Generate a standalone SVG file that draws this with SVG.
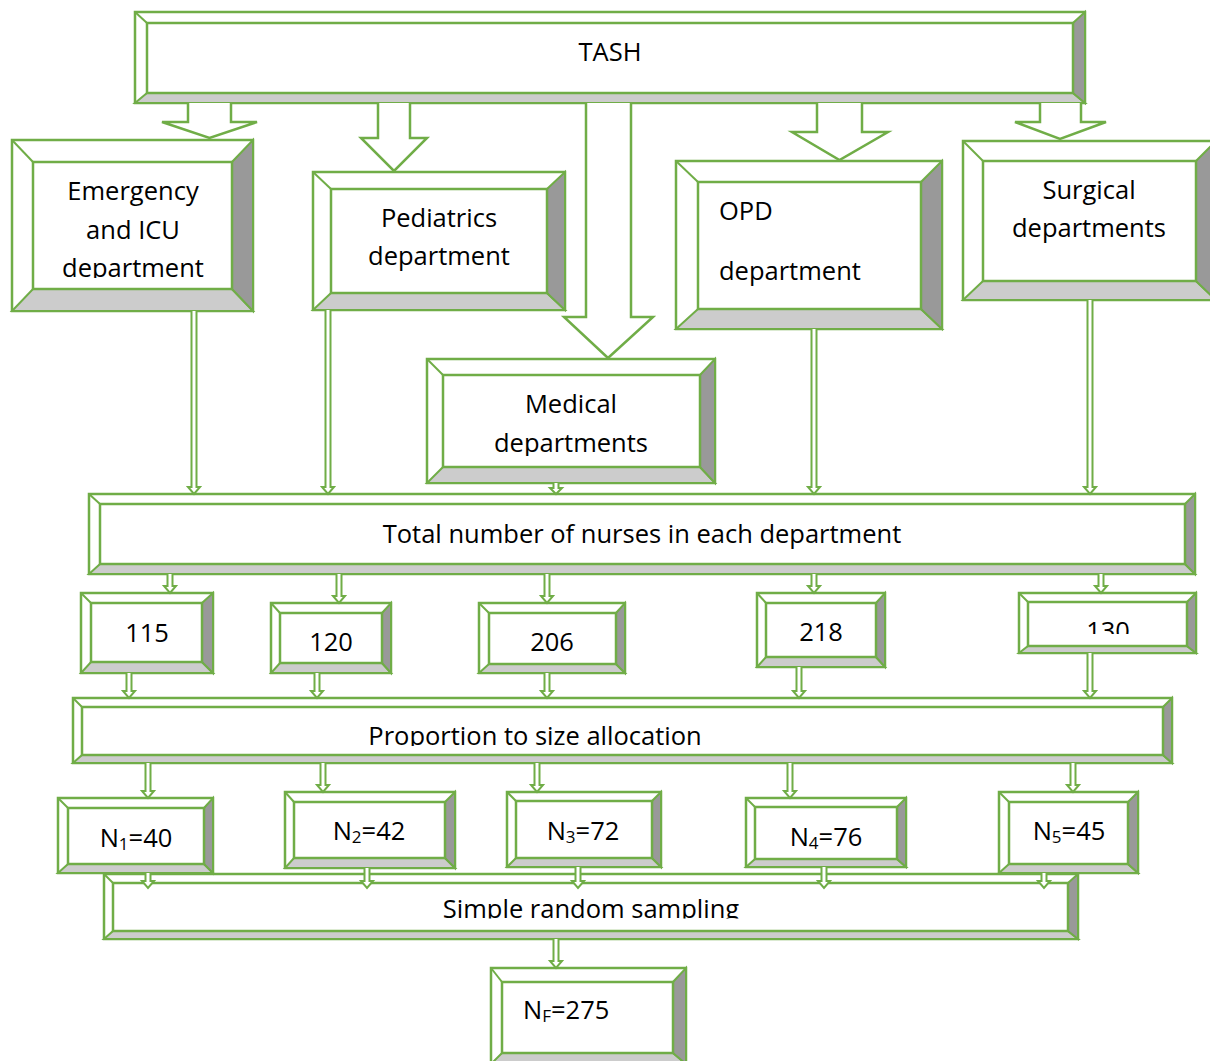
<svg xmlns="http://www.w3.org/2000/svg" width="1210" height="1061" viewBox="0 0 1210 1061">
<style>
.o{fill:#fff;stroke:#70AD47;stroke-width:2.5}
.b{fill:#CCCCCC;stroke:#70AD47;stroke-width:2}
.r{fill:#999999;stroke:#70AD47;stroke-width:2}
.d{stroke:#70AD47;stroke-width:2;fill:none}
.i{fill:#fff;stroke:#70AD47;stroke-width:2.5}
.a{fill:#fff;stroke:#70AD47;stroke-width:2.5;stroke-linejoin:miter}
.t{fill:#fff;stroke:#70AD47;stroke-width:2}
text{font-family:"Open Sans","Noto Sans",sans-serif;font-size:25.5px;fill:#000}
.c{text-anchor:middle}
.s{font-size:17px}
</style>
<defs>
<clipPath id="cE"><rect x="0" y="0" width="1210" height="278"/></clipPath>
<clipPath id="cM"><rect x="0" y="0" width="1210" height="456"/></clipPath>
<clipPath id="c130"><rect x="0" y="0" width="1210" height="634"/></clipPath>
<clipPath id="cP"><rect x="0" y="0" width="1210" height="746"/></clipPath>
<clipPath id="cS"><rect x="0" y="0" width="1210" height="918.5"/></clipPath>
</defs>

<g id="tash">
<rect class="o" x="135" y="12" width="950" height="91"/>
<polygon class="b" points="135,103 1085,103 1073,93 147,93"/>
<polygon class="r" points="1085,12 1085,103 1073,93 1073,23"/>
<line class="d" x1="135" y1="12" x2="147" y2="23"/>
<rect class="i" x="147" y="23" width="926" height="70"/>
<text class="c" x="610" y="61">TASH</text>
</g>

<g id="emergency">
<rect class="o" x="12" y="140" width="241" height="171"/>
<polygon class="b" points="12,311 253,311 232,289 33,289"/>
<polygon class="r" points="253,140 253,311 232,289 232,162"/>
<line class="d" x1="12" y1="140" x2="33" y2="162"/>
<rect class="i" x="33" y="162" width="199" height="127"/>
<text class="c" x="133" y="200">Emergency</text>
<text class="c" x="133" y="239">and ICU</text>
<text class="c" x="133" y="277" clip-path="url(#cE)">department</text>
</g>

<g id="pediatrics">
<rect class="o" x="313" y="172" width="252" height="138"/>
<polygon class="b" points="313,310 565,310 547,293 331,293"/>
<polygon class="r" points="565,172 565,310 547,293 547,189"/>
<line class="d" x1="313" y1="172" x2="331" y2="189"/>
<rect class="i" x="331" y="189" width="216" height="104"/>
<text class="c" x="439" y="227">Pediatrics</text>
<text class="c" x="439" y="265">department</text>
</g>

<g id="medical">
<rect class="o" x="427" y="359" width="288" height="124"/>
<polygon class="b" points="427,483 715,483 700,467 443,467"/>
<polygon class="r" points="715,359 715,483 700,467 700,375"/>
<line class="d" x1="427" y1="359" x2="443" y2="375"/>
<rect class="i" x="443" y="375" width="257" height="92"/>
<text class="c" x="571" y="413">Medical</text>
<text class="c" x="571" y="452" clip-path="url(#cM)">departments</text>
</g>

<g id="opd">
<rect class="o" x="676" y="161" width="266" height="168"/>
<polygon class="b" points="676,329 942,329 921,309 698,309"/>
<polygon class="r" points="942,161 942,329 921,309 921,182"/>
<line class="d" x1="676" y1="161" x2="698" y2="182"/>
<rect class="i" x="698" y="182" width="223" height="127"/>
<text x="719" y="220">OPD</text>
<text x="719" y="280">department</text>
</g>

<g id="surgical">
<rect class="o" x="963" y="141" width="253" height="159"/>
<polygon class="b" points="963,300 1216,300 1196,281 983,281"/>
<polygon class="r" points="1216,141 1216,300 1196,281 1196,161"/>
<line class="d" x1="963" y1="141" x2="983" y2="161"/>
<rect class="i" x="983" y="161" width="213" height="120"/>
<text class="c" x="1089" y="199">Surgical</text>
<text class="c" x="1089" y="237">departments</text>
</g>

<g id="total">
<rect class="o" x="89" y="494" width="1106" height="80"/>
<polygon class="b" points="89,574 1195,574 1185,564 100,564"/>
<polygon class="r" points="1195,494 1195,574 1185,564 1185,504"/>
<line class="d" x1="89" y1="494" x2="100" y2="504"/>
<rect class="i" x="100" y="504" width="1085" height="60"/>
<text class="c" x="642" y="543">Total number of nurses in each department</text>
</g>

<g id="n115">
<rect class="o" x="81" y="593" width="132" height="80"/>
<polygon class="b" points="81,673 213,673 202,662 91,662"/>
<polygon class="r" points="213,593 213,673 202,662 202,603"/>
<line class="d" x1="81" y1="593" x2="91" y2="603"/>
<rect class="i" x="91" y="603" width="111" height="59"/>
<text class="c" x="147" y="642">115</text>
</g>

<g id="n120">
<rect class="o" x="271" y="603" width="120" height="70"/>
<polygon class="b" points="271,673 391,673 382,663 280,663"/>
<polygon class="r" points="391,603 391,673 382,663 382,613"/>
<line class="d" x1="271" y1="603" x2="280" y2="613"/>
<rect class="i" x="280" y="613" width="102" height="50"/>
<text class="c" x="331" y="651">120</text>
</g>

<g id="n206">
<rect class="o" x="479" y="603" width="146" height="70"/>
<polygon class="b" points="479,673 625,673 616,664 489,664"/>
<polygon class="r" points="625,603 625,673 616,664 616,613"/>
<line class="d" x1="479" y1="603" x2="489" y2="613"/>
<rect class="i" x="489" y="613" width="127" height="51"/>
<text class="c" x="552" y="651">206</text>
</g>

<g id="n218">
<rect class="o" x="757" y="593" width="128" height="74"/>
<polygon class="b" points="757,667 885,667 876,657 766,657"/>
<polygon class="r" points="885,593 885,667 876,657 876,603"/>
<line class="d" x1="757" y1="593" x2="766" y2="603"/>
<rect class="i" x="766" y="603" width="110" height="54"/>
<text class="c" x="821" y="641">218</text>
</g>

<g id="n130">
<rect class="o" x="1019" y="593" width="177" height="60"/>
<polygon class="b" points="1019,653 1196,653 1187,646 1028,646"/>
<polygon class="r" points="1196,593 1196,653 1187,646 1187,602"/>
<line class="d" x1="1019" y1="593" x2="1028" y2="602"/>
<rect class="i" x="1028" y="602" width="159" height="44"/>
<text class="c" x="1108" y="640" clip-path="url(#c130)">130</text>
</g>

<g id="proportion">
<rect class="o" x="73" y="698" width="1099" height="65"/>
<polygon class="b" points="73,763 1172,763 1163,755 82,755"/>
<polygon class="r" points="1172,698 1172,763 1163,755 1163,707"/>
<line class="d" x1="73" y1="698" x2="82" y2="707"/>
<rect class="i" x="82" y="707" width="1081" height="48"/>
<text class="c" x="535" y="745" clip-path="url(#cP)">Proportion to size allocation</text>
</g>

<g id="simple">
<rect class="o" x="104" y="874" width="974" height="65"/>
<polygon class="b" points="104,939 1078,939 1068,931 113,931"/>
<polygon class="r" points="1078,874 1078,939 1068,931 1068,883"/>
<line class="d" x1="104" y1="874" x2="113" y2="883"/>
<rect class="i" x="113" y="883" width="955" height="48"/>
<text class="c" x="591" y="918" clip-path="url(#cS)">Simple random sampling</text>
</g>

<g id="n1">
<rect class="o" x="58" y="798" width="155" height="75"/>
<polygon class="b" points="58,873 213,873 204,864 68,864"/>
<polygon class="r" points="213,798 213,873 204,864 204,808"/>
<line class="d" x1="58" y1="798" x2="68" y2="808"/>
<rect class="i" x="68" y="808" width="136" height="56"/>
<text class="c" x="136" y="847">N<tspan class="s" dy="3">1</tspan><tspan dy="-3">=40</tspan></text>
</g>

<g id="n2">
<rect class="o" x="285" y="792" width="170" height="76"/>
<polygon class="b" points="285,868 455,868 445,858 294,858"/>
<polygon class="r" points="455,792 455,868 445,858 445,802"/>
<line class="d" x1="285" y1="792" x2="294" y2="802"/>
<rect class="i" x="294" y="802" width="151" height="56"/>
<text class="c" x="369" y="840">N<tspan class="s" dy="3">2</tspan><tspan dy="-3">=42</tspan></text>
</g>

<g id="n3">
<rect class="o" x="507" y="792" width="154" height="75"/>
<polygon class="b" points="507,867 661,867 652,858 516,858"/>
<polygon class="r" points="661,792 661,867 652,858 652,801"/>
<line class="d" x1="507" y1="792" x2="516" y2="801"/>
<rect class="i" x="516" y="801" width="136" height="57"/>
<text class="c" x="583" y="840">N<tspan class="s" dy="3">3</tspan><tspan dy="-3">=72</tspan></text>
</g>

<g id="n4">
<rect class="o" x="746" y="798" width="160" height="69"/>
<polygon class="b" points="746,867 906,867 897,859 755,859"/>
<polygon class="r" points="906,798 906,867 897,859 897,807"/>
<line class="d" x1="746" y1="798" x2="755" y2="807"/>
<rect class="i" x="755" y="807" width="142" height="52"/>
<text class="c" x="826" y="846">N<tspan class="s" dy="3">4</tspan><tspan dy="-3">=76</tspan></text>
</g>

<g id="n5">
<rect class="o" x="999" y="792" width="139" height="81"/>
<polygon class="b" points="999,873 1138,873 1128,864 1009,864"/>
<polygon class="r" points="1138,792 1138,873 1128,864 1128,802"/>
<line class="d" x1="999" y1="792" x2="1009" y2="802"/>
<rect class="i" x="1009" y="802" width="119" height="62"/>
<text class="c" x="1069" y="840">N<tspan class="s" dy="3">5</tspan><tspan dy="-3">=45</tspan></text>
</g>

<g id="nf">
<rect class="o" x="491" y="968" width="195" height="96"/>
<polygon class="b" points="491,1064 686,1064 673,1053 502,1053"/>
<polygon class="r" points="686,968 686,1064 673,1053 673,982"/>
<line class="d" x1="491" y1="968" x2="502" y2="982"/>
<rect class="i" x="502" y="982" width="171" height="71"/>
<text x="523" y="1019">N<tspan class="s" dy="3">F</tspan><tspan dy="-3">=275</tspan></text>
</g>

<g id="connectors">
<path class="a" d="M188,103 V122 H162 L209.5,138 L257,122 H231 V103"/>
<path class="a" d="M378,103 V138 H361 L394,171 L427,138 H410 V103"/>
<path class="a" d="M586,103 V317 H564 L608,358 L653,317 H631 V103"/>
<path class="a" d="M817,103 V132 H792 L839.5,160 L888,132 H862 V103"/>
<path class="a" d="M1040,103 V122 H1015 L1060,139 L1106,122 H1081 V103"/>

<path class="t" d="M191.5,311 V487 H188 L194,494 L200,487 H196.5 V311"/>
<path class="t" d="M325.5,310 V487 H322 L328,494 L334,487 H330.5 V310"/>
<path class="t" d="M553.5,483 V488 H550 L556,494 L562,488 H558.5 V483"/>
<path class="t" d="M811.5,329 V487 H808 L814,494 L820,487 H816.5 V329"/>
<path class="t" d="M1087.5,300 V487 H1084 L1090,494 L1096,487 H1092.5 V300"/>

<path class="t" d="M167.5,574 V586 H164 L170,593 L176,586 H172.5 V574"/>
<path class="t" d="M336.5,574 V596 H333 L339,603 L345,596 H341.5 V574"/>
<path class="t" d="M544.5,574 V596 H541 L547,603 L553,596 H549.5 V574"/>
<path class="t" d="M811.5,574 V586 H808 L814,593 L820,586 H816.5 V574"/>
<path class="t" d="M1098.5,574 V586 H1095 L1101,593 L1107,586 H1103.5 V574"/>

<path class="t" d="M126.5,673 V691 H123 L129,698 L135,691 H131.5 V673"/>
<path class="t" d="M314.5,673 V691 H311 L317,698 L323,691 H319.5 V673"/>
<path class="t" d="M544.5,673 V691 H541 L547,698 L553,691 H549.5 V673"/>
<path class="t" d="M796.5,667 V691 H793 L799,698 L805,691 H801.5 V667"/>
<path class="t" d="M1087.5,653 V691 H1084 L1090,698 L1096,691 H1092.5 V653"/>

<path class="t" d="M145.5,763 V791 H142 L148,798 L154,791 H150.5 V763"/>
<path class="t" d="M320.5,763 V785 H317 L323,792 L329,785 H325.5 V763"/>
<path class="t" d="M534.5,763 V785 H531 L537,792 L543,785 H539.5 V763"/>
<path class="t" d="M787.5,763 V791 H784 L790,798 L796,791 H792.5 V763"/>
<path class="t" d="M1070.5,763 V785 H1067 L1073,792 L1079,785 H1075.5 V763"/>

<path class="t" d="M145.5,873 V881 H142 L148,888 L154,881 H150.5 V873"/>
<path class="t" d="M364.5,868 V881 H361 L367,888 L373,881 H369.5 V868"/>
<path class="t" d="M575.5,867 V881 H572 L578,888 L584,881 H580.5 V867"/>
<path class="t" d="M821.5,867 V881 H818 L824,888 L830,881 H826.5 V867"/>
<path class="t" d="M1041.5,873 V881 H1038 L1044,888 L1050,881 H1046.5 V873"/>

<path class="t" d="M553.5,939 V961 H550 L556,968 L562,961 H558.5 V939"/>
</g>
</svg>
